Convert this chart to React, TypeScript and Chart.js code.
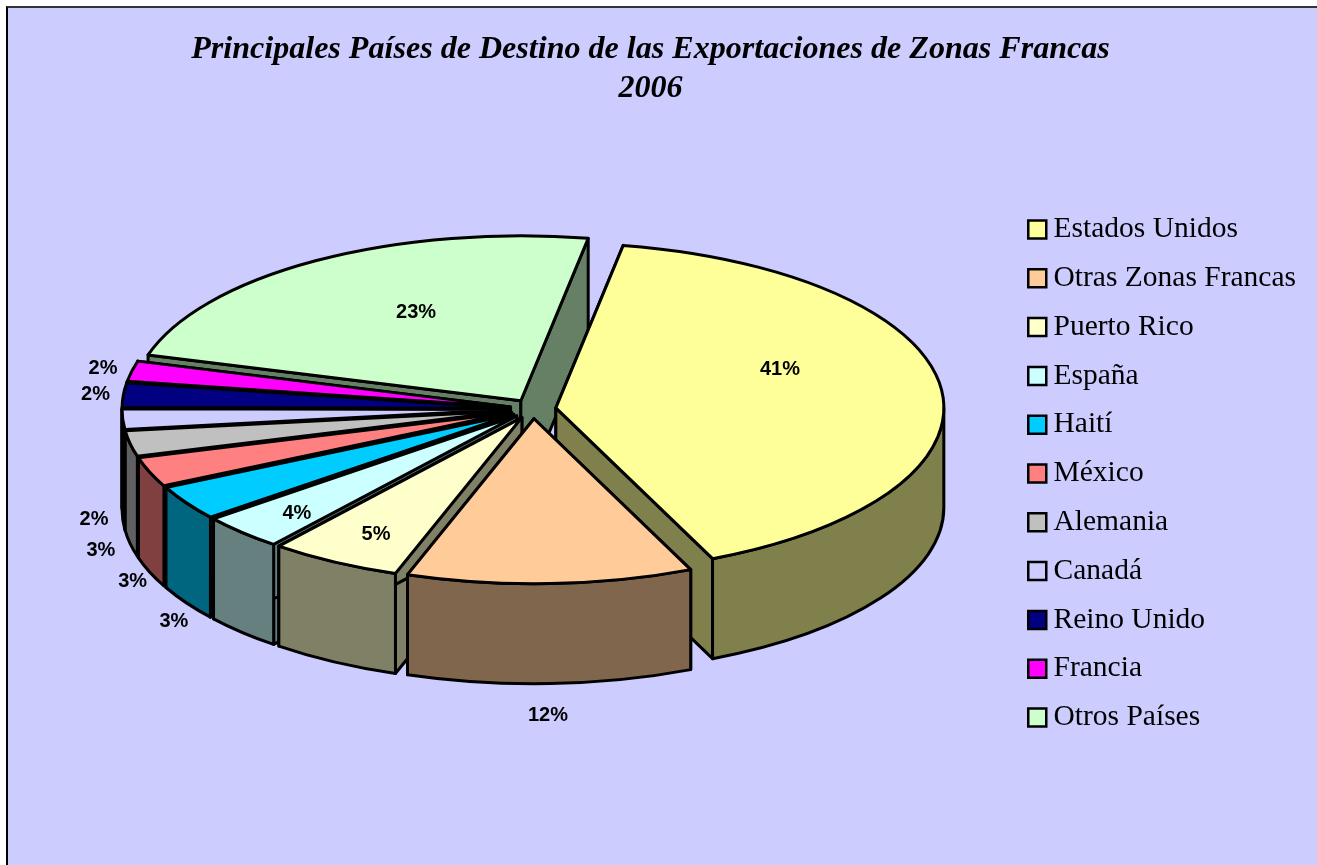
import React, { useEffect, useRef } from "react";
import { Chart, registerables } from "chart.js";

Chart.register(...registerables);

const categories = ["Estados Unidos", "Otras Zonas Francas", "Puerto Rico", "España", "Haití", "México", "Alemania", "Canadá", "Reino Unido", "Francia", "Otros Países"];
const shares = [40.6, 11.9, 5.49, 3.5, 3.4, 2.9, 2.5, 2, 2.4, 2, 23.3];
const colors = ["#FFFF99", "#FFCC99", "#FFFFCC", "#CCFFFF", "#00CCFF", "#FF8080", "#C0C0C0", "#CCCCFF", "#000080", "#FF00FF", "#CCFFCC"];
const titleLines = ["Principales Países de Destino de las Exportaciones de Zonas Francas", "2006"];

// label placement: radial fraction of the pie radius, and extra vertical shift
const labelRadial = [0.582, 0.86, 0.778, 0.8, 1.038, 1.047, 1.077, 1.074, 1.072, 1.076, 0.51];
const labelShift = [-27, 155, 5, 4, 115, 107, 104, 100, 0, 0, -17];

const PIE_CX = 533;
const PIE_CY = 409;
const RADIUS = 388;
const TILT = 0.425;
const DEPTH = 100;
const EXPLODE = 23;
const LINE = 3;

const halve = (hex: string) => {
  const n = parseInt(hex.slice(1), 16);
  const c = [(n >> 16) & 255, (n >> 8) & 255, n & 255].map((v) => Math.round(v / 2));
  return `rgb(${c[0]},${c[1]},${c[2]})`;
};

const arcsOf = (chart: any) => chart.getDatasetMeta(0).data as any[];

const screen = (arc: any, a: number, r: number) => ({
  x: arc.x + Math.cos(a) * r,
  y: PIE_CY + (arc.y - PIE_CY) * TILT + Math.sin(a) * r * TILT,
});

const pie3d = {
  id: "pie3d",
  afterDatasetsUpdate(chart: any) {
    arcsOf(chart).forEach((arc) => {
      const mid = (arc.startAngle + arc.endAngle) / 2;
      arc.x = PIE_CX + Math.cos(mid) * EXPLODE;
      arc.y = PIE_CY + Math.sin(mid) * EXPLODE;
    });
  },
  beforeDatasetDraw(chart: any) {
    const ctx = chart.ctx as CanvasRenderingContext2D;
    const arcs = arcsOf(chart);
    const order = arcs
      .map((arc, i) => ({ arc, i }))
      .sort((p, q) => Math.sin((p.arc.startAngle + p.arc.endAngle) / 2) - Math.sin((q.arc.startAngle + q.arc.endAngle) / 2));
    ctx.save();
    ctx.lineWidth = LINE;
    ctx.lineJoin = "round";
    ctx.strokeStyle = "#000";
    order.forEach(({ arc, i }) => {
      const wall = halve(colors[i]);
      ctx.fillStyle = wall;
      const tip = screen(arc, 0, 0);
      const quad = (a: number) => {
        const p = screen(arc, a, RADIUS);
        ctx.beginPath();
        ctx.moveTo(tip.x, tip.y);
        ctx.lineTo(p.x, p.y);
        ctx.lineTo(p.x, p.y + DEPTH);
        ctx.lineTo(tip.x, tip.y + DEPTH);
        ctx.closePath();
        ctx.fill();
        ctx.stroke();
      };
      quad(arc.startAngle);
      quad(arc.endAngle);
      for (let k = -1; k <= 2; k++) {
        const a0 = Math.max(arc.startAngle, 2 * Math.PI * k);
        const a1 = Math.min(arc.endAngle, Math.PI + 2 * Math.PI * k);
        if (a1 <= a0) continue;
        const ry = RADIUS * TILT;
        ctx.beginPath();
        ctx.ellipse(tip.x, tip.y, RADIUS, ry, 0, a0, a1);
        ctx.ellipse(tip.x, tip.y + DEPTH, RADIUS, ry, 0, a1, a0, true);
        ctx.closePath();
        ctx.fill();
        ctx.stroke();
      }
    });
    ctx.restore();
    ctx.save();
    ctx.translate(0, PIE_CY);
    ctx.scale(1, TILT);
    ctx.translate(0, -PIE_CY);
  },
  afterDatasetDraw(chart: any) {
    const ctx = chart.ctx as CanvasRenderingContext2D;
    ctx.restore();
    ctx.save();
    ctx.lineWidth = LINE;
    ctx.lineJoin = "round";
    ctx.strokeStyle = "#000";
    const arcs = arcsOf(chart);
    arcs.forEach((arc) => {
      const tip = screen(arc, 0, 0);
      ctx.beginPath();
      ctx.moveTo(tip.x, tip.y);
      ctx.ellipse(tip.x, tip.y, RADIUS, RADIUS * TILT, 0, arc.startAngle, arc.endAngle);
      ctx.closePath();
      ctx.stroke();
    });
    const total = shares.reduce((s, v) => s + v, 0);
    ctx.fillStyle = "#000";
    ctx.font = 'bold 20px "Liberation Sans"';
    ctx.textAlign = "center";
    ctx.textBaseline = "middle";
    arcs.forEach((arc, i) => {
      const mid = (arc.startAngle + arc.endAngle) / 2;
      const p = screen(arc, mid, labelRadial[i] * RADIUS);
      ctx.fillText(`${Math.round((shares[i] / total) * 100)}%`, p.x, p.y + labelShift[i]);
    });
    ctx.restore();
  },
};

export default function App() {
  const ref = useRef<HTMLCanvasElement>(null);
  useEffect(() => {
    document.body.style.margin = "0";
    const chart = new Chart(ref.current!, {
      type: "pie",
      plugins: [pie3d],
      data: {
        labels: categories,
        datasets: [{ data: shares, backgroundColor: colors, borderWidth: 0, clip: false } as any],
      },
      options: {
        responsive: false,
        animation: false,
        events: [],
        rotation: 10,
        radius: RADIUS,
        layout: { padding: { left: -5, right: 11, top: 0, bottom: -82 } },
        plugins: {
          tooltip: { enabled: false },
          title: {
            display: true,
            text: titleLines,
            color: "#000",
            font: { family: '"Liberation Serif"', size: 32.1, weight: "bold", style: "italic", lineHeight: 1.21 },
            padding: { top: 30, bottom: 1 },
          },
          legend: {
            position: "right",
            labels: {
              color: "#000",
              font: { family: '"Liberation Serif"', size: 29.5 },
              usePointStyle: true,
              pointStyle: "rect",
              boxWidth: 3,
              boxHeight: 18,
              padding: 19.3,
              generateLabels: (c: any) =>
                (Chart as any).overrides.pie.plugins.legend.labels
                  .generateLabels(c)
                  .map((item: any) => ({ ...item, strokeStyle: "#000", lineWidth: 2.5 })),
            },
          },
        },
      } as any,
    });
    return () => chart.destroy();
  }, []);
  return (
    <div style={{ position: "fixed", left: 0, top: 0, width: 1317, height: 865, overflow: "hidden", background: "#fff" }}>
      <div style={{ position: "absolute", left: 6, top: 6, right: 0, bottom: 0, background: "#CCCCFF", borderLeft: "2px solid #000", borderTop: "2px solid #333" }} />
      <canvas ref={ref} width={1317} height={865} style={{ position: "absolute", left: 0, top: 0 }} />
    </div>
  );
}
